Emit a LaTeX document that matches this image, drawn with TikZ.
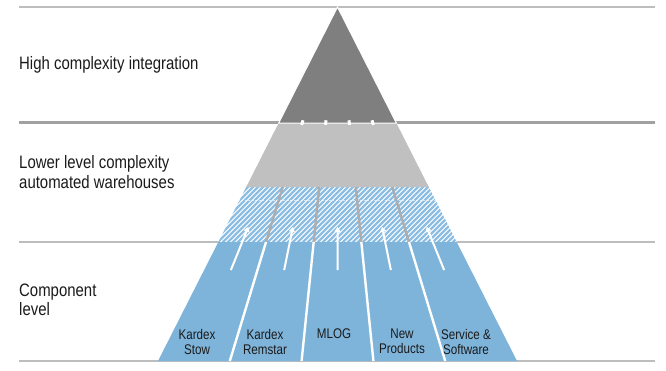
\documentclass[tikz,border=0pt]{standalone}
\usepackage{fontspec}
\setmainfont{Liberation Sans}[FakeStretch=0.83]
\usetikzlibrary{arrows.meta,calc}
\definecolor{tipgray}{HTML}{7F7F7F}
\definecolor{midgray}{HTML}{C0C0C0}
\definecolor{rulegray}{HTML}{BDBDBD}
\definecolor{compblue}{RGB}{127,180,218}
\definecolor{hatchblue}{RGB}{140,190,228}
\definecolor{labeltext}{HTML}{1A1A1A}

\begin{document}
\begin{tikzpicture}[x=1pt,y=-1pt,
  level/.style={anchor=west,align=left,inner sep=0pt,font=\fontsize{18}{19.5}\selectfont,text=labeltext},
  unit/.style={anchor=north,align=center,inner sep=0pt,font=\fontsize{14}{15}\selectfont,text=labeltext},
  rule/.style={draw=rulegray,line width=1.6pt},
  lift/.style={white,line width=2pt,-{Triangle[length=5pt,width=6pt]}}]
\useasboundingbox (0,0) rectangle (666,371);
\coordinate (apex) at (337.5,7);
\foreach \i/\x in {0/158,1/229.8,2/301.6,3/373.4,4/445.2,5/517} \coordinate (b\i) at (\x,361);
\foreach \i/\x in {1/194,2/265.7,3/337.5,4/409.3,5/481} \coordinate (m\i) at (\x,361);
% band edges along the two flanks
\foreach \i in {0,5}{
  \coordinate (g\i) at ($(apex)!0.3277!(b\i)$);
  \coordinate (h\i) at ($(apex)!0.5085!(b\i)$);
  \coordinate (k\i) at ($(apex)!0.6638!(b\i)$);
}
\draw[rule] (19,7) -- (655,7);
\draw[rule,line width=3pt,draw=rulegray!85!black] (19,123) -- (655,123);
\draw[rule] (19,242) -- (655,242);
\draw[rule] (19,361) -- (655,361);

\fill[compblue] (k0) -- (k5) -- (b5) -- (b0) -- cycle;
\fill[white] (h0) -- (h5) -- (k5) -- (k0) -- cycle;
\begin{scope}
  \clip (h0) -- (h5) -- (k5) -- (k0) -- cycle;
  \foreach \s in {165,170,...,465} \draw[hatchblue,line width=2.4pt] (\s,250) -- ++(75,-75);
  \draw[white,opacity=.6,line width=0.6pt,dash pattern=on 2pt off 1.5pt] (150,200) -- (520,200);
\end{scope}
\fill[midgray] (g0) -- (g5) -- (h5) -- (h0) -- cycle;
\filldraw[fill=tipgray,draw=white,line width=1pt] (apex) -- (g5) -- (g0) -- cycle;

\foreach \i in {1,...,4}{
  \draw[midgray!90!black,line width=2.4pt] ($(apex)!0.5085!(b\i)$) -- ($(apex)!0.6638!(b\i)$);
  \draw[white,line width=2.4pt] ($(apex)!0.6638!(b\i)$) -- (b\i);
  \draw[white,line width=3pt] ($(apex)!0.320!(b\i)$) -- ($(apex)!0.333!(b\i)$);
}
\foreach \i in {1,...,5} \draw[lift] ($(apex)!0.743!(m\i)$) -- ($(apex)!0.621!(m\i)$);

\node[level] (high) at (19,65) {High complexity integration};
\node[level] (lower) at (19,172) {Lower level complexity\\automated warehouses};
\node[level] (comp) at (19,300) {Component\\level};

\node[unit] (stow) at (197,329) {Kardex\\Stow};
\node[unit] (remstar) at (265,329) {Kardex\\Remstar};
\node[unit] (mlog) at (334,329) {MLOG};
\node[unit] (newprod) at (402,329) {New\\Products};
\node[unit] (service) at (466,329) {Service \&\\Software};
\end{tikzpicture}
\end{document}
